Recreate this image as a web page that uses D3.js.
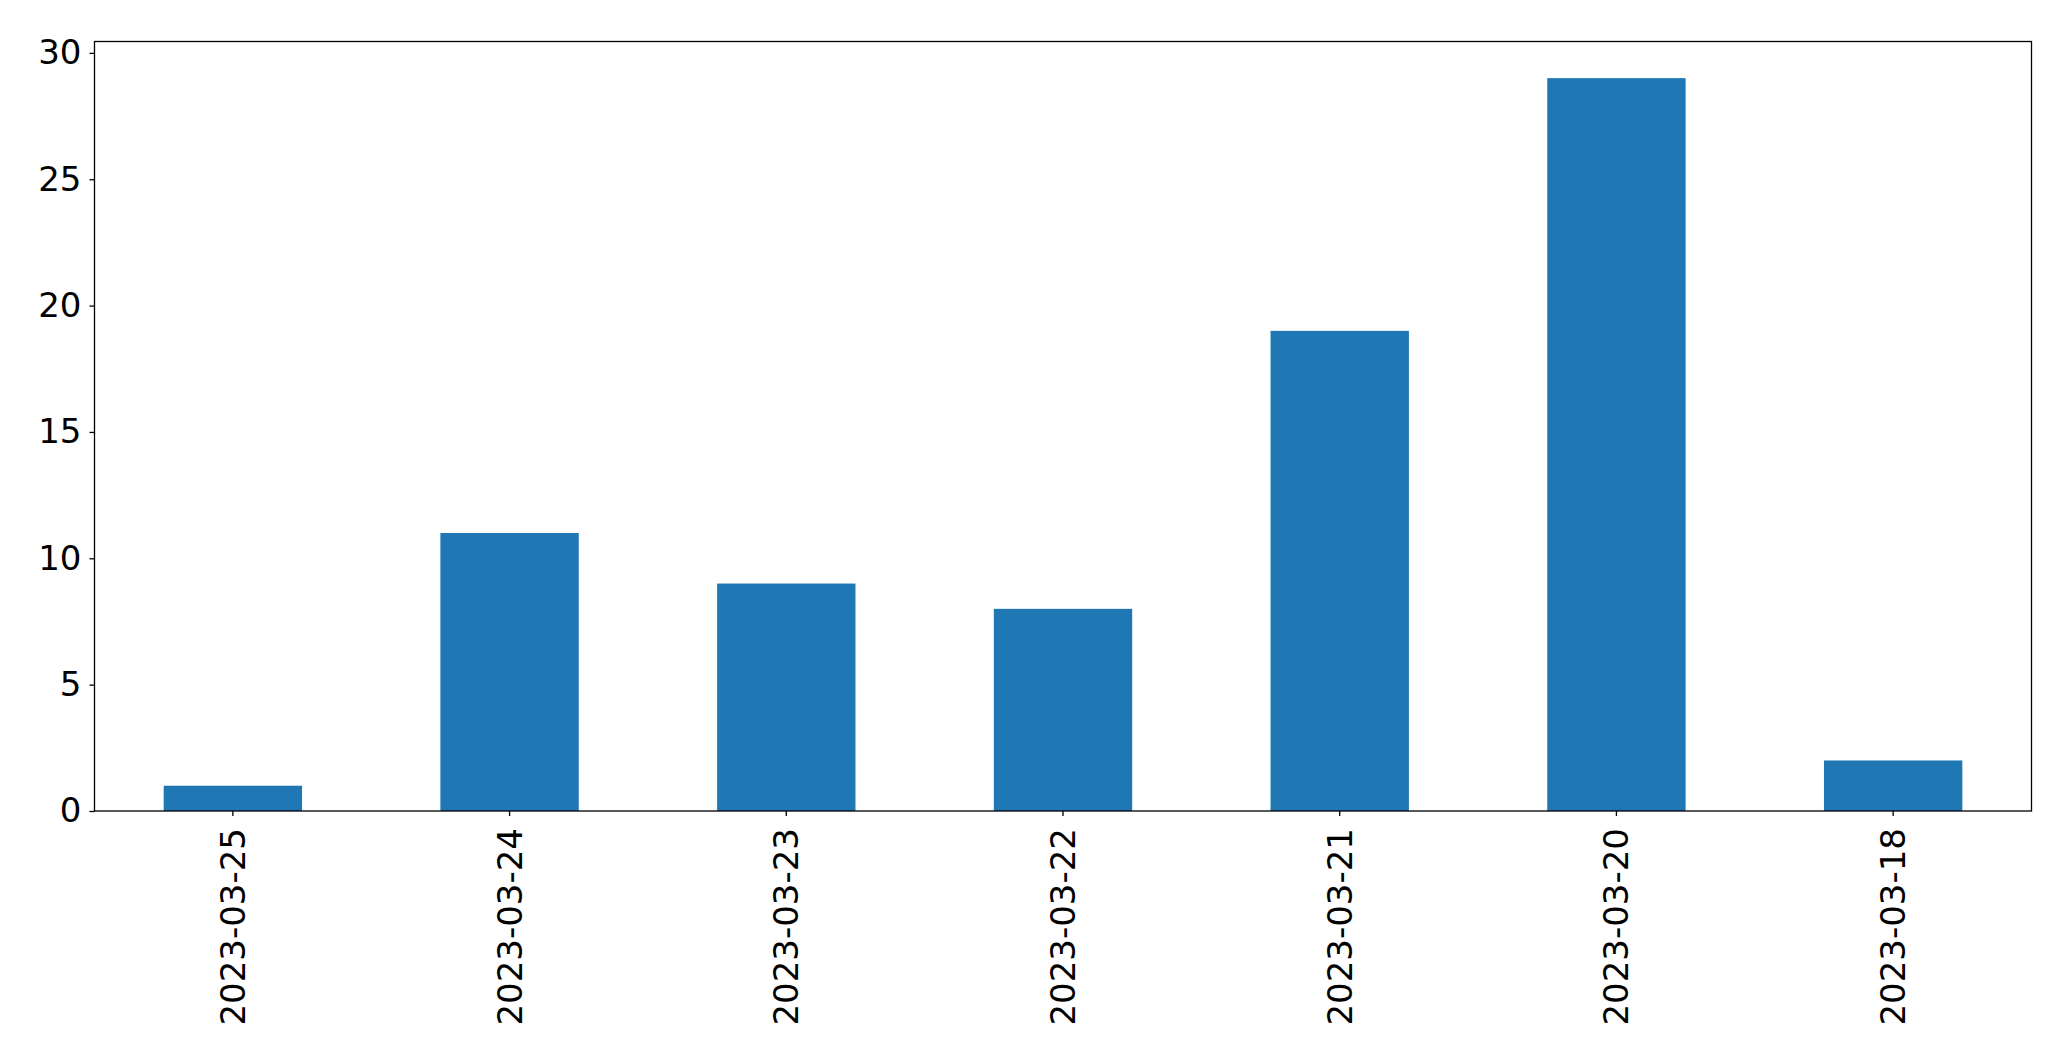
<!DOCTYPE html>
<html>
<head>
<meta charset="utf-8">
<script src="https://cdn.jsdelivr.net/npm/d3@7"></script>
<style>
  html, body { margin: 0; padding: 0; background: #fff; }
  svg { display: block; }
</style>
</head>
<body>
<script>
const categories = ["2023-03-25", "2023-03-24", "2023-03-23", "2023-03-22", "2023-03-21", "2023-03-20", "2023-03-18"];
const values = [1, 11, 9, 8, 19, 29, 2];
const yTicks = [0, 5, 10, 15, 20, 25, 30];

const W = 2071, H = 1063;
const margin = { left: 94.5, right: W - 2031.5, top: 41.5, bottom: H - 811 };
const iw = W - margin.left - margin.right;
const ih = H - margin.top - margin.bottom;

const svg = d3.select("body").append("svg").attr("width", W).attr("height", H);
const g = svg.append("g").attr("transform", `translate(${margin.left},${margin.top})`);

const x = d3.scaleBand().domain(categories).range([0, iw]).paddingInner(0.5).paddingOuter(0.25);
const y = d3.scaleLinear().domain([0, d3.max(values) * 1.05]).range([ih, 0]);

g.selectAll("rect.bar").data(values).join("rect")
  .attr("class", "bar")
  .attr("x", (d, i) => x(categories[i]))
  .attr("width", x.bandwidth())
  .attr("y", d => y(d))
  .attr("height", d => y(0) - y(d))
  .attr("fill", "#1f77b4");

const font = "DejaVu Sans, sans-serif";

const yAxis = g.append("g").call(d3.axisLeft(y).tickValues(yTicks).tickSize(5).tickPadding(8).tickFormat(d3.format("d")));
yAxis.select(".domain").remove();
yAxis.selectAll("line").attr("stroke", "#000").attr("stroke-width", 1.3);
yAxis.selectAll("text").attr("font-family", font).attr("font-size", 34).attr("fill", "#000");

const xAxis = g.append("g").attr("transform", `translate(0,${ih})`)
  .call(d3.axisBottom(x).tickSize(5).tickPadding(0));
xAxis.select(".domain").remove();
xAxis.selectAll("line").attr("stroke", "#000").attr("stroke-width", 1.3);
xAxis.selectAll("text")
  .attr("font-family", font).attr("font-size", 34).attr("fill", "#000")
  .attr("text-anchor", "end")
  .attr("dy", null)
  .attr("y", 0)
  .attr("transform", "translate(0,17) rotate(-90)")
  .attr("dominant-baseline", "central");

g.append("rect").attr("x", 0).attr("y", 0).attr("width", iw).attr("height", ih)
  .attr("fill", "none").attr("stroke", "#000").attr("stroke-width", 1.3);
</script>
</body>
</html>
